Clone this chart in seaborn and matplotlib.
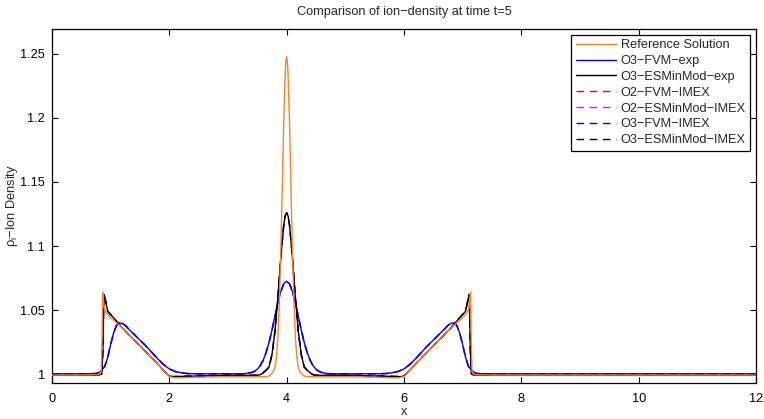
import numpy as np
import pandas as pd
import matplotlib
matplotlib.use("Agg")
import matplotlib.pyplot as plt
import seaborn as sns

# ---------------- data ----------------
# Reference solution (orange)
ref_x = [0.0, 0.5, 0.8, 0.84, 0.855, 0.865, 0.875, 0.89, 0.92, 0.96, 1.0, 1.2, 1.5, 1.8, 1.9, 1.95, 2.0, 2.1,
         2.5, 3.0, 3.5, 3.65, 3.7, 3.75, 3.775, 3.8, 3.825, 3.85, 3.875, 3.9, 3.925, 3.95, 3.975, 3.9875, 4.0,
         4.0125, 4.025, 4.05, 4.075, 4.1, 4.125, 4.15, 4.175, 4.2, 4.225, 4.25, 4.3, 4.35, 4.5, 5.0, 5.5,
         5.9, 6.0, 6.05, 6.1, 6.2, 6.5, 6.8, 7.0, 7.04, 7.08, 7.11, 7.125, 7.135, 7.145, 7.16, 7.2, 7.5, 8.0, 10.0, 12.0]
ref_y = [0.9992, 0.9992, 0.9995, 1.002, 1.030, 1.064, 1.060, 1.052, 1.048, 1.046, 1.044, 1.036, 1.022, 1.008, 1.003, 1.0003, 0.998, 0.997,
         0.9975, 0.998, 0.998, 0.998, 0.9985, 1.0005, 1.0019, 1.005, 1.013, 1.028, 1.055, 1.095, 1.144, 1.195, 1.234, 1.2448, 1.248,
         1.2448, 1.234, 1.195, 1.144, 1.095, 1.055, 1.028, 1.013, 1.005, 1.0019, 1.0005, 0.9985, 0.998, 0.998, 0.998, 0.9975,
         0.997, 0.998, 1.0003, 1.003, 1.008, 1.022, 1.036, 1.044, 1.046, 1.048, 1.052, 1.060, 1.064, 1.030, 1.002, 0.9995, 0.9992, 0.9992, 0.9992, 0.9992]

# O3-FVM-exp (blue)
fvm_x = [0.0, 0.5, 0.75, 0.8, 0.85, 0.9, 0.95, 1.0, 1.05, 1.1, 1.15, 1.2, 1.25, 1.3, 1.4, 1.5, 1.6, 1.7, 1.8, 1.9, 2.0,
         2.1, 2.2, 2.3, 2.5, 3.0, 3.2, 3.3, 3.4, 3.45, 3.5, 3.55, 3.6, 3.65, 3.7, 3.75, 3.8, 3.85, 3.9, 3.95, 4.0,
         4.05, 4.1, 4.15, 4.2, 4.25, 4.3, 4.35, 4.4, 4.45, 4.5, 4.55, 4.6, 4.7, 4.8, 5.0, 5.5,
         5.7, 5.8, 5.9, 6.0, 6.1, 6.2, 6.3, 6.4, 6.5, 6.6, 6.7, 6.75, 6.8, 6.85, 6.9, 6.95, 7.0, 7.05, 7.1,
         7.15, 7.2, 7.25, 7.5, 8.0, 10.0, 12.0]
fvm_y = [1.0002, 1.0002, 1.0004, 1.001, 1.003, 1.006, 1.013, 1.023, 1.032, 1.038, 1.040, 1.0395, 1.038, 1.0355, 1.031, 1.0265, 1.022, 1.017, 1.012, 1.0075, 1.004,
         1.002, 1.001, 1.0004, 1.0002, 1.0002, 1.0002, 1.0004, 1.0012, 1.0021, 1.0038, 1.0065, 1.0108, 1.0168, 1.0247, 1.0343, 1.0449, 1.0554, 1.0643, 1.0704, 1.0725,
         1.0704, 1.0643, 1.0554, 1.0449, 1.0343, 1.0247, 1.0168, 1.0108, 1.0065, 1.0038, 1.0021, 1.0012, 1.0004, 1.0002, 1.0002, 1.0002,
         1.0004, 1.001, 1.002, 1.004, 1.0075, 1.012, 1.017, 1.022, 1.0265, 1.031, 1.0355, 1.038, 1.0395, 1.040, 1.038, 1.032, 1.023, 1.013, 1.006,
         1.003, 1.001, 1.0004, 1.0002, 1.0002, 1.0002, 1.0002]

# O3-ESMinMod-exp (black), written as (x, value) pairs
esm_pts = [(0.0, 0.9990), (0.5, 0.9990), (0.8, 0.9992), (0.85, 1.000), (0.87, 1.020), (0.88, 1.050),
           (0.89, 1.062), (0.91, 1.058), (0.95, 1.049), (0.99, 1.047), (1.05, 1.044), (1.2, 1.036),
           (1.5, 1.022), (1.8, 1.008), (1.9, 1.003), (1.95, 1.0005), (2.0, 0.9985), (2.05, 0.998),
           (2.5, 0.9985), (3.0, 0.999), (3.4, 0.999), (3.5, 0.999), (3.55, 0.9995), (3.6, 1.001),
           (3.65, 1.003), (3.7, 1.0055), (3.75, 1.0151), (3.8, 1.0329), (3.85, 1.0594), (3.9, 1.0903),
           (3.95, 1.116), (3.975, 1.1235), (4.0, 1.126), (4.025, 1.1235), (4.05, 1.116), (4.1, 1.0903),
           (4.15, 1.0594), (4.2, 1.0329),
           (4.25, 1.0151), (4.3, 1.0055), (4.35, 1.003), (4.4, 1.001), (4.45, 0.9995), (4.5, 0.999),
           (4.6, 0.999), (5.0, 0.999), (5.5, 0.9985), (5.95, 0.998), (6.0, 0.9985), (6.05, 1.0005),
           (6.1, 1.003), (6.2, 1.008), (6.5, 1.022), (6.8, 1.036), (6.95, 1.044), (7.01, 1.047),
           (7.05, 1.049), (7.09, 1.058), (7.11, 1.062), (7.12, 1.050), (7.13, 1.020), (7.15, 1.000),
           (7.2, 0.9992), (7.5, 0.9990), (8.0, 0.9990), (10.0, 0.9990), (12.0, 0.9990)]
esm_x = [p[0] for p in esm_pts]
esm_y = [p[1] for p in esm_pts]

labels = ["Reference Solution", "O3\u2212FVM\u2212exp", "O3\u2212ESMinMod\u2212exp",
          "O2\u2212FVM\u2212IMEX", "O2\u2212ESMinMod\u2212IMEX", "O3\u2212FVM\u2212IMEX", "O3\u2212ESMinMod\u2212IMEX"]
x_ticks = [0, 2, 4, 6, 8, 10, 12]
y_ticks = [1.0, 1.05, 1.1, 1.15, 1.2, 1.25]
y_tick_labels = ["1", "1.05", "1.1", "1.15", "1.2", "1.25"]

# ---------------- plotting ----------------
sns.set_theme(style="white")
plt.rcParams['font.family'] = ['Liberation Sans', 'DejaVu Sans']
plt.rcParams['mathtext.fontset'] = 'custom'
plt.rcParams['mathtext.rm'] = 'Liberation Sans'
plt.rcParams['mathtext.it'] = 'Liberation Sans'

fig = plt.figure(figsize=(7.64, 4.19), dpi=100)
ax = fig.add_axes([0.068, 0.0859, 0.9215, 0.8449])

orange = "#ff7f2a"
dash = (5.5, 4.0)

handles = []

def draw(xs, ys, label, color, z, dashed=False):
    df = pd.DataFrame({"x": xs, "y": ys})
    sns.lineplot(data=df, x="x", y="y", ax=ax, color=color, lw=1.0, label=label,
                 sort=False, estimator=None, zorder=z)
    line = ax.get_lines()[-1]
    if dashed:
        line.set_dashes(dash)
    handles.append(line)

draw(ref_x, ref_y, labels[0], orange, 4)
draw(fvm_x, fvm_y, labels[1], "#0000ff", 3)
draw(esm_x, esm_y, labels[2], "black", 3)
draw(fvm_x, fvm_y, labels[3], "#ff0000", 1, dashed=True)
draw(esm_x, esm_y, labels[4], "#ff00ff", 2, dashed=True)
draw(fvm_x, fvm_y, labels[5], "#0000ff", 2, dashed=True)
draw(esm_x, esm_y, labels[6], "black", 2, dashed=True)

ax.set_xlim(0, 12)
ax.set_ylim(0.993, 1.2695)
ax.set_xticks(x_ticks)
ax.set_xticklabels([str(t) for t in x_ticks])
ax.set_yticks(y_ticks)
ax.set_yticklabels(y_tick_labels)
ax.tick_params(axis="both", direction="in", length=4, width=0.8, top=True, right=True,
               bottom=True, left=True, labelsize=9.2, colors="black")
ax.tick_params(axis="x", pad=7)
ax.tick_params(axis="y", pad=5)
for s in ax.spines.values():
    s.set_color("black")
    s.set_linewidth(0.9)

ax.set_title("Comparison of ion\u2212density at time t=5", fontsize=9.2, pad=10)
ax.set_xlabel("x", fontsize=9.2, labelpad=1)
ax.set_ylabel(r"$\rho_\mathrm{i}$" + "\u2212Ion Density", fontsize=9.2, labelpad=0)

leg = ax.legend(handles, labels, loc="upper right",
                fontsize=9.2, frameon=True, fancybox=False, framealpha=1,
                edgecolor="black", handlelength=3.1, labelspacing=0.3,
                borderpad=0.35, handletextpad=0.4, borderaxespad=0.45)
leg.get_frame().set_linewidth(0.9)

fig.savefig("out.png", dpi=100)
